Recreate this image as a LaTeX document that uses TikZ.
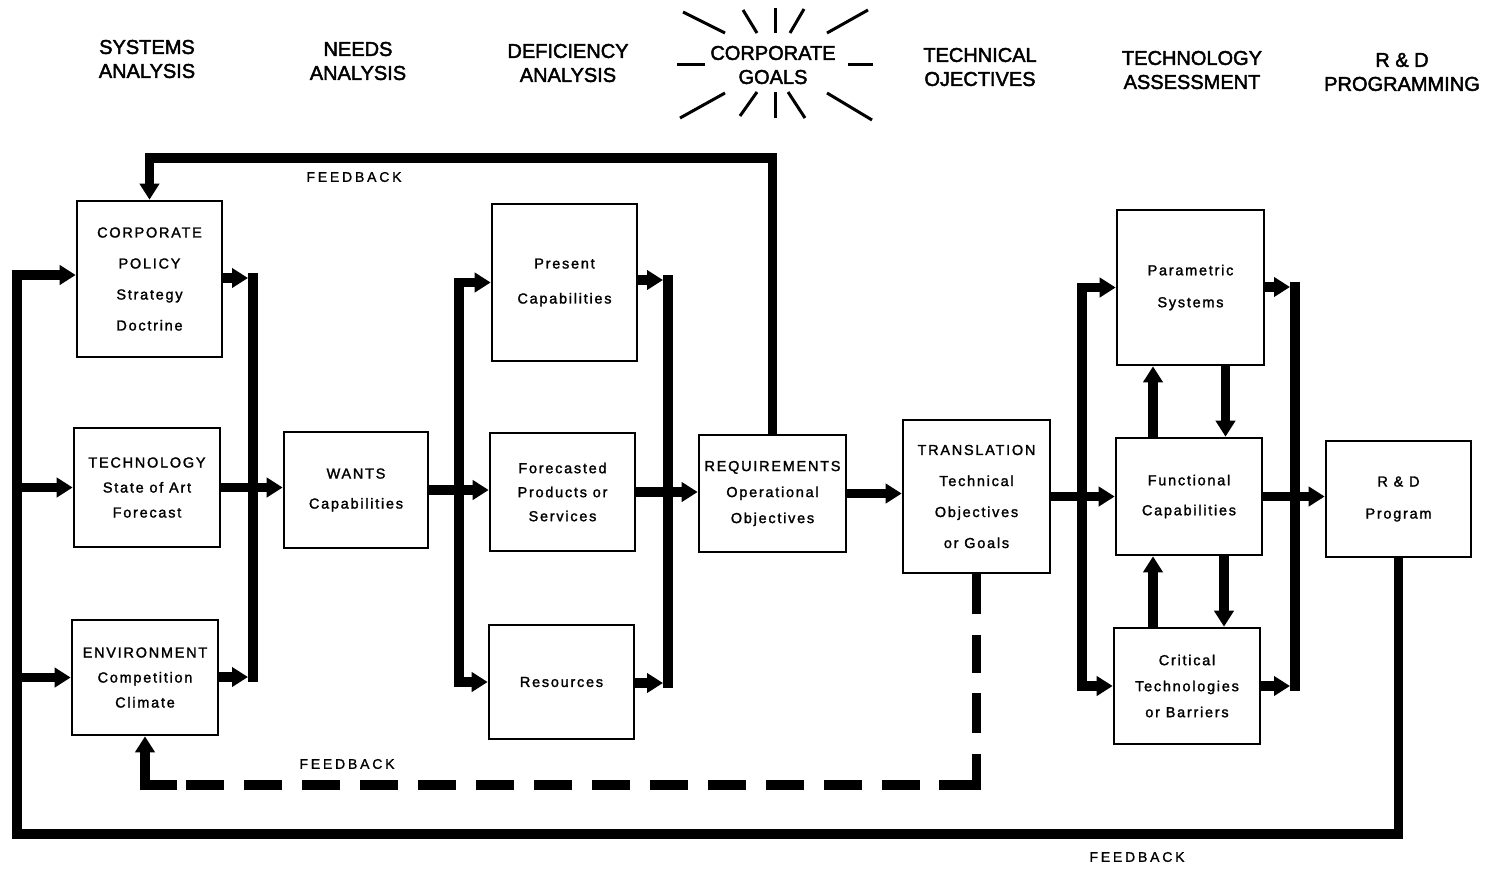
\documentclass[tikz,border=0pt]{standalone}
\usepackage{fontspec}
\setmainfont{Liberation Sans}
\newfontfamily\headfont[FakeBold=2.2]{Liberation Sans}
\newfontfamily\boxfont[LetterSpace=12,FakeBold=1.6]{Liberation Sans}
\newfontfamily\fbfont[LetterSpace=20,FakeBold=1.2]{Liberation Sans}
\usetikzlibrary{arrows.meta}
\tikzset{
  tipA/.tip={Triangle[length=16pt,width=19pt]},
  box/.style={draw, line width=2.6pt, align=center, inner sep=0pt,
    font=\boxfont\fontsize{14.5}{#1}\selectfont},
  head/.style={align=center, inner sep=0pt, font=\headfont\fontsize{20}{24}\selectfont},
  fb/.style={inner sep=0pt, font=\fbfont\fontsize{14}{16}\selectfont},
  conn/.style={line width=9.5pt},
  bus/.style={line width=9.5pt, line cap=rect},
  ray/.style={line width=3pt},
  dashconn/.style={line width=9.5pt, dash pattern=on 38pt off 20pt}
}
\begin{document}
\begin{tikzpicture}[x=1pt,y=-1pt]
\fill[white] (0,0) rectangle (1489,868);
\useasboundingbox (0,0) rectangle (1489,868);

% headers
\node[head] (h1) at (147,59) {SYSTEMS\\ANALYSIS};
\node[head] (h2) at (358,61) {NEEDS\\ANALYSIS};
\node[head] (h3) at (568,63) {DEFICIENCY\\ANALYSIS};
\node[head] (h4) at (773,65) {CORPORATE\\GOALS};
\node[head] (h5) at (980,67) {TECHNICAL\\OJECTIVES};
\node[head] (h6) at (1192,70) {TECHNOLOGY\\ASSESSMENT};
\node[head] (h7) at (1402,72) {R \& D\\PROGRAMMING};

% burst around corporate goals
\draw[ray] (683,12) -- (725,33);
\draw[ray] (743,10) -- (757,33);
\draw[ray] (775,8) -- (775,33);
\draw[ray] (804,9) -- (790,33);
\draw[ray] (868,10) -- (827,33);
\draw[ray] (677,64) -- (705,64);
\draw[ray] (848,64) -- (873,64);
\draw[ray] (680,118) -- (725,93);
\draw[ray] (740,116) -- (757,92);
\draw[ray] (775,92) -- (775,118);
\draw[ray] (788,92) -- (805,118);
\draw[ray] (827,93) -- (872,120);

% boxes
\node[box=31, minimum width=145pt, minimum height=156pt] (pol) at (149.5,279) {CORPORATE\\POLICY\\Strategy\\Doctrine};
\node[box=25, minimum width=146pt, minimum height=119pt] (tech) at (147,487.5) {TECHNOLOGY\\State of Art\\Forecast};
\node[box=25, minimum width=146pt, minimum height=115pt] (env) at (145,677.5) {ENVIRONMENT\\Competition\\Climate};
\node[box=30, minimum width=144pt, minimum height=116pt] (wants) at (356,490) {WANTS\\Capabilities};
\node[box=35, minimum width=145pt, minimum height=157pt] (pres) at (564.5,282.5) {Present\\Capabilities};
\node[box=24, minimum width=145pt, minimum height=118pt] (fore) at (562.5,492) {Forecasted\\Products or\\Services};
\node[box=24, minimum width=145pt, minimum height=114pt] (res) at (561.5,682) {Resources};
\node[box=26, minimum width=147pt, minimum height=117pt] (req) at (772.5,493.5) {REQUIREMENTS\\Operational\\Objectives};
\node[box=31, minimum width=147pt, minimum height=153pt] (trans) at (976.5,496.5) {TRANSLATION\\Technical\\Objectives\\or Goals};
\node[box=32, minimum width=147pt, minimum height=155pt] (par) at (1190.5,287.5) {Parametric\\Systems};
\node[box=30, minimum width=146pt, minimum height=117pt] (fun) at (1189,496.5) {Functional\\Capabilities};
\node[box=26, minimum width=146pt, minimum height=116pt] (crit) at (1187,686) {Critical\\Technologies\\or Barriers};
\node[box=32, minimum width=145pt, minimum height=116pt] (rd) at (1398.5,499) {R \& D\\Program};

% feedback labels
\node[fb] (fb1) at (354,177) {FEEDBACK};
\node[fb] (fb2) at (347,764) {FEEDBACK};
\node[fb] (fb3) at (1137,857) {FEEDBACK};

% coordinates
\coordinate (fbt) at (149.5,158);
\coordinate (fbb) at (17,834);
\coordinate (b1t) at (253,278);
\coordinate (b1b) at (253,677);
\coordinate (b1tp) at (248,278);
\coordinate (b1bp) at (248,677);
\coordinate (b2m) at (459,490);
\coordinate (b3t) at (668,280);
\coordinate (b3b) at (668,683);
\coordinate (b3tp) at (663,280);
\coordinate (b3bp) at (663,683);
\coordinate (b4m) at (1082,496.5);
\coordinate (b5t) at (1295,287);
\coordinate (b5b) at (1295,686);
\coordinate (b5tp) at (1290,287);
\coordinate (b5bp) at (1290,686);
\coordinate (fbd) at (145,785);
\coordinate (fbd2) at (177,785);
\coordinate (dv) at (976.5,754);
\coordinate (dc) at (976.5,785);
\coordinate (dh) at (939,785);
\coordinate (dh2) at (920,785);

% top feedback
\draw[conn,-tipA] (req.north) |- (fbt) -- (pol.north);

% bottom feedback and left input bus
\draw[conn,-tipA] (rd.south) |- (fbb) |- ([yshift=4pt]pol.west);
\draw[conn,-tipA] (fbb |- tech.west) -- (tech.west);
\draw[conn,-tipA] (fbb |- env.west) -- (env.west);

% first output bus
\draw[bus] (b1t) -- (b1b);
\draw[conn,-tipA] (pol.east |- b1tp) -- (b1tp);
\draw[conn,-tipA] (env.east |- b1bp) -- (b1bp);
\draw[conn,-tipA] (tech.east) -- (tech.east -| wants.west);

% second group
\draw[conn,-tipA] (wants.east) -- (wants.east -| fore.west);
\draw[conn,-tipA] (b2m) |- (pres.west);
\draw[conn,-tipA] (b2m) |- (res.west);
\draw[bus] (b3t) -- (b3b);
\draw[conn,-tipA] (pres.east |- b3tp) -- (b3tp);
\draw[conn,-tipA] (res.east |- b3bp) -- (b3bp);
\draw[conn,-tipA] (fore.east) -- (fore.east -| req.west);

% requirements to translation
\draw[conn,-tipA] (req.east) -- (req.east -| trans.west);

% technology assessment group
\draw[conn,-tipA] (trans.east) -- (fun.west);
\draw[conn,-tipA] (b4m) |- (par.west);
\draw[conn,-tipA] (b4m) |- (crit.west);
\draw[bus] (b5t) -- (b5b);
\draw[conn,-tipA] (par.east |- b5tp) -- (b5tp);
\draw[conn,-tipA] (crit.east |- b5bp) -- (b5bp);
\draw[conn,-tipA] (fun.east) -- (fun.east -| rd.west);

% vertical arrows between assessment boxes
\draw[conn,-tipA] ([xshift=-36pt]fun.north) -- ([xshift=-36pt]fun.north |- par.south);
\draw[conn,-tipA] ([xshift=35pt]par.south) -- ([xshift=35pt]par.south |- fun.north);
\draw[conn,-tipA] ([xshift=-34pt]crit.north) -- ([xshift=-34pt]crit.north |- fun.south);
\draw[conn,-tipA] ([xshift=35pt]fun.south) -- ([xshift=35pt]fun.south |- crit.north);

% dashed feedback
\draw[conn,dash pattern=on 40pt off 21pt on 38pt off 20pt] (trans.south) -- (dv);
\draw[conn] (dv) -- (dc) -- (dh);
\draw[dashconn] (dh2) -- (fbd2);
\draw[conn,-tipA] (fbd2) -- (fbd) -- (env.south);
\end{tikzpicture}
\end{document}
